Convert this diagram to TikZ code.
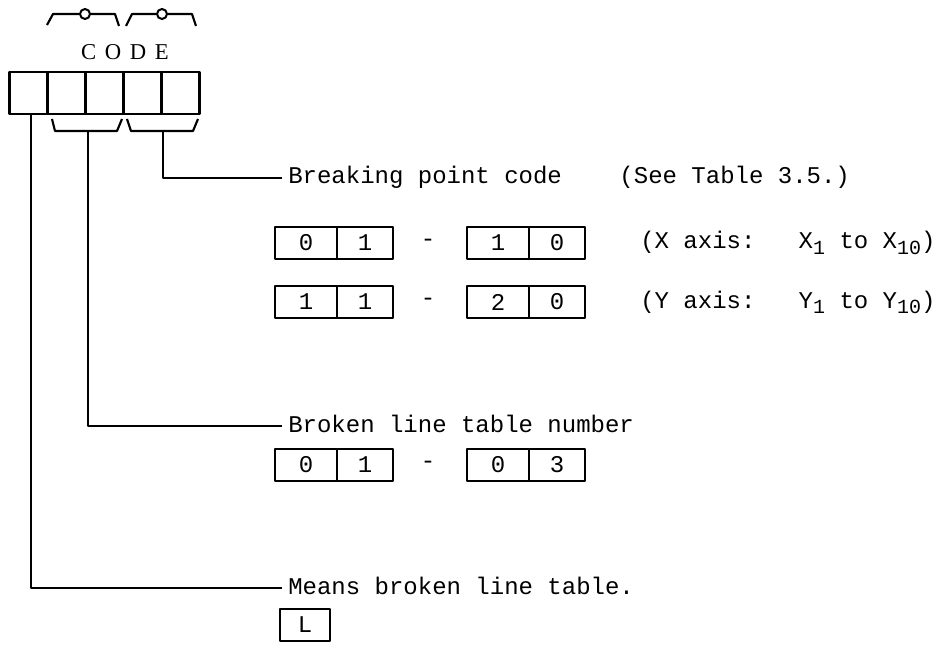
\documentclass[tikz,border=0pt]{standalone}
\usepackage{fontspec}
\setmainfont{Liberation Mono}
\newfontfamily\codefont{Liberation Serif}
\newcommand{\sbx}[1]{\raisebox{-0.4ex}{\fontsize{15}{15}\selectfont #1}}
\newcommand{\lsp}{\hspace{0.38em}}
\begin{document}
\begin{tikzpicture}[x=0.75pt,y=-0.75pt,line join=round,
  cell/.style={draw,line width=1.9pt,minimum width=28.5pt,minimum height=31.5pt,inner sep=0pt},
  lcell/.style={draw,line width=1.7pt,minimum width=46.5pt,minimum height=24pt,inner sep=0pt,font=\fontsize{18}{20}\selectfont},
  rcell/.style={draw,line width=1.7pt,minimum width=42pt,minimum height=24pt,inner sep=0pt,font=\fontsize{18}{20}\selectfont},
  conn/.style={line width=1.5pt},
  brace/.style={line width=1.6pt},
  ring/.style={circle,draw,line width=1.5pt,minimum size=7.5pt,inner sep=0pt},
  lbl/.style={anchor=base west,inner sep=0pt,font=\fontsize{18}{20}\selectfont},
  hyph/.style={inner sep=0pt,font=\fontsize{18}{20}\selectfont}]
\useasboundingbox (0,0) rectangle (949,645);
% code cells
\node[cell] (c1) at (28.5,93) {};
\node[cell] (c2) at (66.5,93) {};
\node[cell] (c3) at (104.5,93) {};
\node[cell] (c4) at (142.5,93) {};
\node[cell] (c5) at (180.5,93) {};
\node[inner sep=0pt,font=\codefont\fontsize{17}{18}\selectfont] (code) at (125,52) {C\lsp O\lsp D\lsp E};
% over braces
\node[ring] (o1) at (85,14) {};
\node[ring] (o2) at (162,14) {};
\coordinate (o1a) at (47,25); \coordinate (o1b) at (53,14);
\coordinate (o1c) at (115,14); \coordinate (o1d) at (119,26);
\coordinate (o2a) at (126,26); \coordinate (o2b) at (132,14);
\coordinate (o2c) at (192,14); \coordinate (o2d) at (196,26);
\draw[brace] (o1a) -- (o1b) -- (o1.west);
\draw[brace] (o1.east) -- (o1c) -- (o1d);
\draw[brace] (o2a) -- (o2b) -- (o2.west);
\draw[brace] (o2.east) -- (o2c) -- (o2d);
% under braces
\coordinate (u1a) at (52,119); \coordinate (u1b) at (55,131);
\coordinate (u1c) at (117,131); \coordinate (u1d) at (122,119);
\coordinate (u1m) at (88,131);
\coordinate (u2a) at (127,119); \coordinate (u2b) at (131,131);
\coordinate (u2c) at (193,131); \coordinate (u2d) at (198,119);
\coordinate (u2m) at (163,131);
\draw[brace] (u1a) -- (u1b) -- (u1c) -- (u1d);
\draw[brace] (u2a) -- (u2b) -- (u2c) -- (u2d);
% labels
\node[lbl] (bp) at (288,184) {Breaking point code\ \ \ \ (See Table 3.5.)};
\node[lbl] (bl) at (288,432) {Broken line table number};
\node[lbl] (mb) at (288,594) {Means broken line table.};
\coordinate (bpe) at (282,178);
\coordinate (ble) at (282,426);
\coordinate (mbe) at (282,588);
\coordinate (c1b) at (31,114);
% connectors
\draw[conn] (u2m) |- (bpe);
\draw[conn] (u1m) |- (ble);
\draw[conn] (c1b) |- (mbe);
% row 1
\node[lcell] (r1a) at (306,243) {0};
\node[rcell] (r1b) at (365,243) {1};
\node[hyph] (r1d) at (428,243) {-};
\node[lcell] (r1c) at (498,243) {1};
\node[rcell] (r1e) at (557,243) {0};
\node[lbl] (xax) at (640,249) {(X axis:\ \ \ X\sbx{1} to X\sbx{10})};
% row 2
\node[lcell] (r2a) at (306,302) {1};
\node[rcell] (r2b) at (365,302) {1};
\node[hyph] (r2d) at (428,302) {-};
\node[lcell] (r2c) at (498,302) {2};
\node[rcell] (r2e) at (557,302) {0};
\node[lbl] (yax) at (640,308) {(Y axis:\ \ \ Y\sbx{1} to Y\sbx{10})};
% row 3
\node[lcell] (r3a) at (306,465) {0};
\node[rcell] (r3b) at (365,465) {1};
\node[hyph] (r3d) at (428,465) {-};
\node[lcell] (r3c) at (498,465) {0};
\node[rcell] (r3e) at (557,465) {3};
% L
\node[lcell,minimum width=38pt] (lb) at (305,625) {L};
\end{tikzpicture}
\end{document}
